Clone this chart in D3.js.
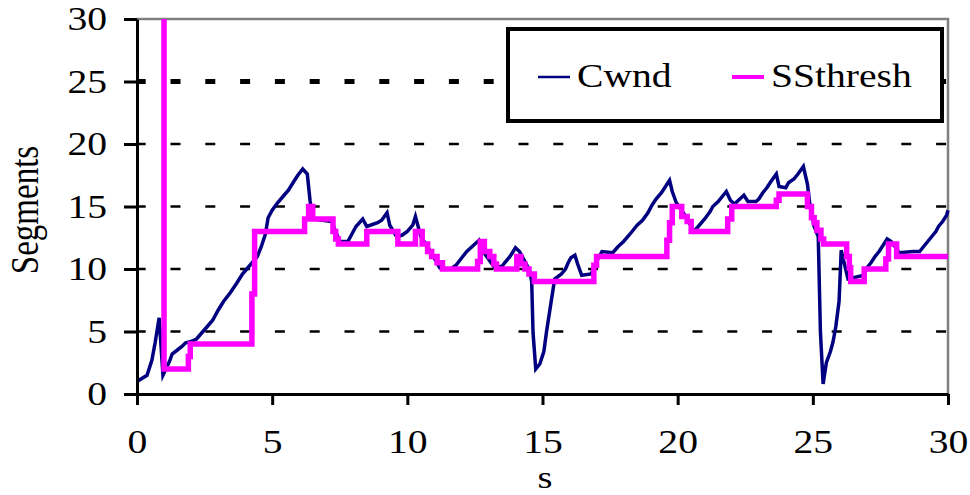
<!DOCTYPE html>
<meta charset="utf-8">
<style>
  body { margin: 0; background: #fff; }
  text { font-family: "Liberation Serif", "Times New Roman", serif; fill: #000; }
</style>
<body>

<svg width="970" height="495"></svg>

<script src="https://cdn.jsdelivr.net/npm/d3@7"></script>

<script>

    // Cwnd samples (seconds, segments)
    var cwndTime = [0, 0.37, 0.55, 0.67, 0.82, 0.96, 1.2, 1.3, 1.48, 1.66, 1.8, 2.0, 2.2, 2.4, 2.6, 2.8,
        3.0, 3.2, 3.45, 3.7, 3.9, 4.18, 4.45, 4.6, 4.75, 4.85, 5.0, 5.2, 5.4, 5.6, 5.8, 5.95, 6.13, 6.3,
        6.4, 6.5, 7.2, 7.5, 7.8, 7.95, 8.1, 8.35, 8.5, 8.9, 9.05, 9.25, 9.35, 9.6, 9.8, 10.0, 10.2, 10.3,
        10.5, 10.8, 11.2, 11.6, 11.8, 12.05, 12.2, 12.4, 12.65, 12.8, 13.2, 13.5, 13.6, 13.8, 14.0, 14.15,
        14.5, 14.6, 14.65, 14.75, 14.9, 15.05, 15.15, 15.3, 15.45, 15.7, 15.85, 15.95, 16.05, 16.2, 16.3,
        16.45, 16.8, 17.0, 17.2, 17.6, 17.8, 18.0, 18.2, 18.35, 18.5, 18.7, 18.9, 19.05, 19.2, 19.4, 19.55,
        19.7, 19.8, 19.95, 20.3, 20.6, 20.8, 21.0, 21.2, 21.3, 21.5, 21.65, 21.8, 21.95, 22.1, 22.3, 22.45,
        22.6, 22.9, 23.0, 23.15, 23.3, 23.45, 23.65, 23.75, 24.0, 24.1, 24.3, 24.45, 24.65, 24.8, 24.9,
        25.05, 25.2, 25.28, 25.38, 25.5, 25.65, 25.75, 25.85, 25.97, 26.05, 26.3, 26.9, 27.0, 27.15, 27.3,
        27.45, 27.6, 27.75, 27.9, 28.2, 28.7, 28.95, 29.1, 29.25, 29.4, 29.55, 29.65, 29.8, 29.95, 30.0];
    var cwndValue = [1.0, 1.5, 2.7, 4.1, 6.1, 1.5, 2.6, 3.2, 3.5, 3.8, 4.1, 4.2, 4.4, 4.9, 5.4, 5.9,
        6.7, 7.4, 8.1, 8.9, 9.6, 10.3, 11.0, 11.8, 12.8, 14.1, 14.7, 15.3, 15.8, 16.3, 17.0, 17.5, 18.0, 17.6,
        15.5, 14.0, 13.8, 12.2, 12.2, 12.8, 13.4, 14.0, 13.4, 13.7, 13.9, 14.5, 13.5, 12.6, 12.7, 13.0, 13.5, 14.2,
        12.6, 11.6, 10.1, 10.0, 10.3, 11.0, 11.4, 11.8, 12.3, 11.4, 10.2, 10.2, 10.5, 11.0, 11.7, 11.4,
        10.0, 9.0, 4.9, 2.0, 2.4, 3.4, 5.0, 7.1, 9.2, 9.6, 10.0, 10.5, 10.9, 11.1, 10.4,
        9.5, 9.6, 10.6, 11.4, 11.3, 11.8, 12.2, 12.7, 13.1, 13.5, 13.9, 14.5, 15.1, 15.6, 16.1, 16.6,
        17.1, 16.2, 15.3, 14.2, 13.0, 13.5, 14.0, 14.6, 15.0, 15.4, 15.8, 16.2, 15.5, 15.2, 15.6, 15.9,
        15.4, 15.4, 15.6, 16.1, 16.5, 17.0, 17.6, 16.6, 16.5, 16.9, 17.2, 17.6, 18.2, 16.8, 15.0,
        13.4, 12.6, 5.0, 0.8, 2.5, 3.4, 4.2, 5.4, 7.4, 11.5, 9.2, 9.5, 10.1, 10.5, 11.0,
        11.4, 11.9, 12.4, 12.2, 11.3, 11.4, 11.4, 11.8, 12.2, 12.6, 13.0, 13.4, 13.8, 14.3, 14.7];

    // SSthresh, held from each time until the next one
    var ssTime = [0, 1.0, 1.9, 1.97, 4.25, 4.35, 6.2, 6.35, 6.5, 7.25, 7.35, 7.45, 8.5, 9.65, 10.3,
        10.55, 10.75, 10.9, 11.1, 11.3, 12.6, 12.7, 12.85, 13.05, 13.2, 13.3, 14.05, 14.2, 14.35, 14.5,
        14.7, 16.9, 17.0, 19.6, 19.7, 19.8, 20.15, 20.35, 20.5, 21.85, 22.0, 23.65, 23.75, 24.8, 24.95,
        25.05, 25.15, 25.3, 25.4, 26.25, 26.35, 26.4, 26.9, 27.7, 27.8, 28.1, 30.0];
    var ssValue = [64, 2, 3, 4, 8, 13, 14, 15, 14, 13, 12.4, 12, 13, 12, 13,
        12, 11.4, 11, 10.5, 10, 10.6, 12.2, 11.4, 11, 10.4, 10, 11, 10.4, 10, 9.6,
        9, 10.3, 11, 12.3, 13.7, 15, 14.2, 13.8, 13, 14, 15, 15.5, 16, 15, 14.1,
        13.7, 13.1, 12.4, 12, 11, 10.1, 9, 10, 10.8, 12, 11, 11];

    var xTicks = [0, 5, 10, 15, 20, 25, 30];
    var yTicks = [0, 5, 10, 15, 20, 25, 30];
    var seriesNames = ["Cwnd", "SSthresh"];
    var seriesColors = ["#000080", "#ff00ff"];

    var svg = d3.select("svg");

    var margin = {top: 19, right: 22, bottom: 101, left: 137},
        width = +svg.attr("width") - margin.left - margin.right,
        height = +svg.attr("height") - margin.top - margin.bottom;

    var x = d3.scaleLinear().domain([0, 30]).range([0, width]);
    var y = d3.scaleLinear().domain([0, 30]).range([height, 0]);

    var g = svg.append("g")
        .attr("transform", "translate(" + margin.left + "," + margin.top + ")");

    svg.append("defs").append("clipPath")
        .attr("id", "plot-clip")
        .append("rect")
        .attr("x", -4).attr("y", 0)
        .attr("width", width + 10).attr("height", height + 4);

    // dashed gridlines
    g.selectAll(".grid")
        .data(yTicks.filter(function (d) { return d > 0 && d < 30; }))
        .enter().append("line")
        .attr("class", "grid")
        .attr("x1", 0).attr("x2", width)
        .attr("y1", function (d) { return y(d); })
        .attr("y2", function (d) { return y(d); })
        .attr("stroke", "#000")
        .attr("stroke-width", function (d) { return d === 25 ? 5 : 2.5; })
        .attr("stroke-dasharray", "10,24.8")
        .attr("stroke-dashoffset", 1.3);

    // grey plot-area border, top and right
    g.append("path")
        .attr("d", "M0," + y(30) + "H" + x(30) + "V" + y(0))
        .attr("fill", "none")
        .attr("stroke", "#808080")
        .attr("stroke-width", 2.5);

    // legend box
    var legend = g.append("g")
        .attr("transform", "translate(" + (508 - margin.left) + "," + (29 - margin.top) + ")");
    legend.append("rect")
        .attr("width", 434).attr("height", 92)
        .attr("fill", "#fff")
        .attr("stroke", "#000")
        .attr("stroke-width", 4);

    var legendX = [[30, 62, 69], [224, 256, 263]];
    seriesNames.forEach(function (name, i) {
        legend.append("line")
            .attr("x1", legendX[i][0]).attr("x2", legendX[i][1])
            .attr("y1", 48).attr("y2", 48)
            .attr("stroke", seriesColors[i])
            .attr("stroke-width", i === 0 ? 2.5 : 4);
        legend.append("text")
            .attr("transform", "translate(" + legendX[i][2] + ",58) scale(1.2,1)")
            .style("font-size", "33px")
            .text(name);
    });

    var plot = g.append("g").attr("clip-path", "url(#plot-clip)");

    var cwndLine = d3.line()
        .x(function (d) { return x(cwndTime[d]); })
        .y(function (d) { return y(cwndValue[d]); });

    plot.append("path")
        .datum(d3.range(cwndTime.length))
        .attr("fill", "none")
        .attr("stroke", seriesColors[0])
        .attr("stroke-width", 3.5)
        .attr("d", cwndLine);

    var ssLine = d3.line()
        .curve(d3.curveStepAfter)
        .x(function (d) { return x(ssTime[d]); })
        .y(function (d) { return y(ssValue[d]); });

    plot.append("path")
        .datum(d3.range(ssTime.length))
        .attr("fill", "none")
        .attr("stroke", seriesColors[1])
        .attr("stroke-width", 5.5)
        .attr("d", ssLine);

    // axes
    var xAxis = g.append("g")
        .attr("transform", "translate(0," + height + ")")
        .call(d3.axisBottom(x).tickValues(xTicks).tickSize(11).tickSizeOuter(0).tickPadding(24.6));
    var yAxis = g.append("g")
        .call(d3.axisLeft(y).tickValues(yTicks).tickSize(13).tickSizeOuter(0));

    [xAxis, yAxis].forEach(function (a) {
        a.attr("font-family", null).attr("font-size", null);
        a.select(".domain").attr("stroke", "#000").attr("stroke-width", 3);
        a.selectAll(".tick line").attr("stroke", "#000").attr("stroke-width", 3);
        a.selectAll(".tick text").style("font-size", "33px").attr("fill", "#000");
    });
    xAxis.selectAll(".tick text").attr("transform", "scale(1.2,1)");
    yAxis.selectAll(".tick text")
        .attr("x", 0)
        .attr("transform", "translate(-30,0) scale(1.2,1)");

    // axis titles
    g.append("text")
        .attr("transform", "translate(" + (545 - margin.left) + "," + (488 - margin.top) + ") scale(1.2,1)")
        .attr("text-anchor", "middle")
        .style("font-size", "32px")
        .text("s");

    g.append("text")
        .attr("transform", "translate(" + (38 - margin.left) + "," + (210 - margin.top) + ") scale(1.2,1) rotate(-90)")
        .attr("text-anchor", "middle")
        .style("font-size", "33px")
        .text("Segments");

</script>
</body>
